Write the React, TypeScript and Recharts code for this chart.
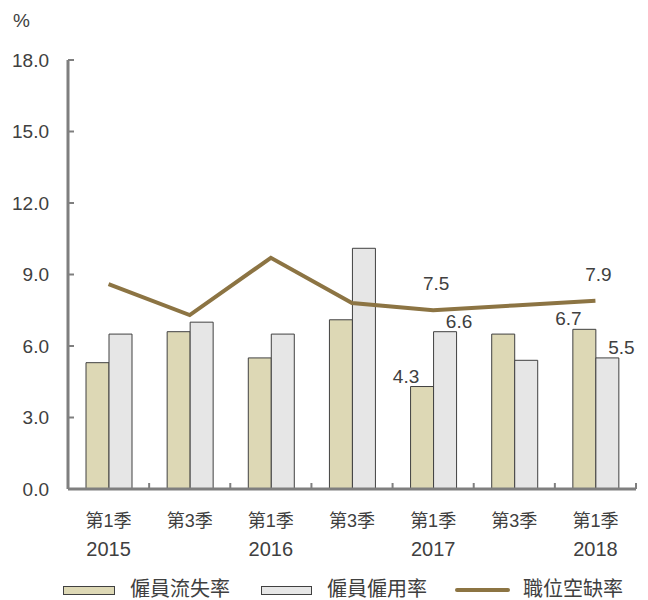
import React from 'react';
import { ComposedChart, Bar, Line, XAxis, YAxis, Legend, LabelList } from 'recharts';

const quarters = ['第1季', '第3季', '第1季', '第3季', '第1季', '第3季', '第1季'];
const years = ['2015', '', '2016', '', '2017', '', '2018'];
const turnover = [5.3, 6.6, 5.5, 7.1, 4.3, 6.5, 6.7];
const hiring = [6.5, 7.0, 6.5, 10.1, 6.6, 5.4, 5.5];
const vacancy = [8.6, 7.3, 9.7, 7.8, 7.5, 7.7, 7.9];
const labelled = [false, false, false, false, true, false, true];
const yTicks = [0, 3, 6, 9, 12, 15, 18];
const seriesNames = ['僱員流失率', '僱員僱用率', '職位空缺率'];

const data = quarters.map((q, i) => ({
  key: 'c' + i,
  turnover: turnover[i],
  hiring: hiring[i],
  vacancy: vacancy[i],
}));

const FONT = "'Liberation Sans Narrow', 'Arial Narrow', 'Liberation Sans', Arial, 'Noto Sans CJK TC', sans-serif";
const WIDE = "'Liberation Sans', Arial, 'Noto Sans CJK TC', sans-serif";
const TEXT = '#404040';
const AXIS = '#7f7f7f';
const BEIGE = '#DDD8B5';
const GREY = '#E6E6E6';
const LINEC = '#8C7443';

const XTick = (props: any) => {
  const { x, y, payload, index } = props;
  const off = payload && payload.offset ? payload.offset : 40.5;
  return (
    <g>
      <line x1={x + off} x2={x + off} y1={y} y2={y - 6} stroke={AXIS} strokeWidth={2} />
      <text x={x} y={y + 38} textAnchor="middle" fill={TEXT} fontSize={18} fontFamily={WIDE}>
        {quarters[index]}
      </text>
      <text x={x} y={y + 67} textAnchor="middle" fill={TEXT} fontSize={20} fontFamily={FONT}>
        {years[index]}
      </text>
    </g>
  );
};

const YTick = (props: any) => {
  const { x, y, payload } = props;
  return (
    <g>
      <line x1={x} x2={x + 6} y1={y} y2={y} stroke={AXIS} strokeWidth={2} />
      <text x={x - 19} y={y} dy="0.35em" textAnchor="end" fill={TEXT} fontSize={19} fontFamily={FONT}>
        {Number(payload.value).toFixed(1)}
      </text>
    </g>
  );
};

const barLabel = (shift: number, lift: number) => (props: any) => {
  const { x, y, width, value, index } = props;
  if (!labelled[index]) return null;
  return (
    <text x={x + width / 2 + shift} y={y - lift} textAnchor="middle" fill={TEXT} fontSize={19} fontFamily={FONT}>
      {Number(value).toFixed(1)}
    </text>
  );
};

const lineLabel = (props: any) => {
  const { x, y, value, index } = props;
  if (!labelled[index]) return null;
  return (
    <text x={x + 3} y={y - 20} textAnchor="middle" fill={TEXT} fontSize={19} fontFamily={FONT}>
      {Number(value).toFixed(1)}
    </text>
  );
};

const legendText: React.CSSProperties = {
  position: 'absolute',
  top: 6,
  lineHeight: '26px',
  fontSize: 20,
  fontFamily: WIDE,
  color: TEXT,
  whiteSpace: 'nowrap',
};

const LegendContent = () => (
  <div style={{ position: 'relative', width: 648, height: 30 }}>
    <div style={{ position: 'absolute', left: 63, top: 16, width: 50, height: 7, background: BEIGE, border: '1px solid #404040' }} />
    <div style={{ ...legendText, left: 130 }}>{seriesNames[0]}</div>
    <div style={{ position: 'absolute', left: 261, top: 16, width: 49, height: 7, background: GREY, border: '1px solid #404040' }} />
    <div style={{ ...legendText, left: 327 }}>{seriesNames[1]}</div>
    <div style={{ position: 'absolute', left: 455, top: 18, width: 55, height: 4, background: LINEC, borderRadius: 2 }} />
    <div style={{ ...legendText, left: 523 }}>{seriesNames[2]}</div>
  </div>
);

export default function App() {
  return (
    <div style={{ position: 'absolute', left: 0, top: 0, width: 648, height: 600, background: '#fff' }}>
      <div style={{ position: 'absolute', left: 13, top: 10, fontSize: 19, fontFamily: FONT, color: TEXT }}>%</div>
      <ComposedChart
        width={648}
        height={600}
        data={data}
        margin={{ top: 60, right: 12, bottom: 0, left: 0 }}
        barGap={0}
      >
        <XAxis
          dataKey="key"
          tick={<XTick />}
          tickLine={false}
          tickSize={0}
          tickMargin={0}
          height={81}
          axisLine={{ stroke: AXIS, strokeWidth: 3 }}
          interval={0}
        />
        <YAxis
          domain={[0, 18]}
          ticks={yTicks}
          tick={<YTick />}
          tickLine={false}
          tickSize={0}
          tickMargin={0}
          width={68}
          axisLine={{ stroke: AXIS, strokeWidth: 3 }}
          interval={0}
        />
        <Legend verticalAlign="bottom" content={<LegendContent />} wrapperStyle={{ height: 30, left: 0, bottom: 0 }} />
        <Bar dataKey="turnover" name={seriesNames[0]} fill={BEIGE} stroke="#404040" strokeWidth={1} barSize={23} isAnimationActive={false}>
          <LabelList dataKey="turnover" content={barLabel(-16, 4)} />
        </Bar>
        <Bar dataKey="hiring" name={seriesNames[1]} fill={GREY} stroke="#404040" strokeWidth={1} barSize={23} isAnimationActive={false}>
          <LabelList dataKey="hiring" content={barLabel(14, 4)} />
        </Bar>
        <Line dataKey="vacancy" name={seriesNames[2]} stroke={LINEC} strokeWidth={4} dot={false} activeDot={false} isAnimationActive={false}>
          <LabelList dataKey="vacancy" content={lineLabel} />
        </Line>
      </ComposedChart>
    </div>
  );
}
